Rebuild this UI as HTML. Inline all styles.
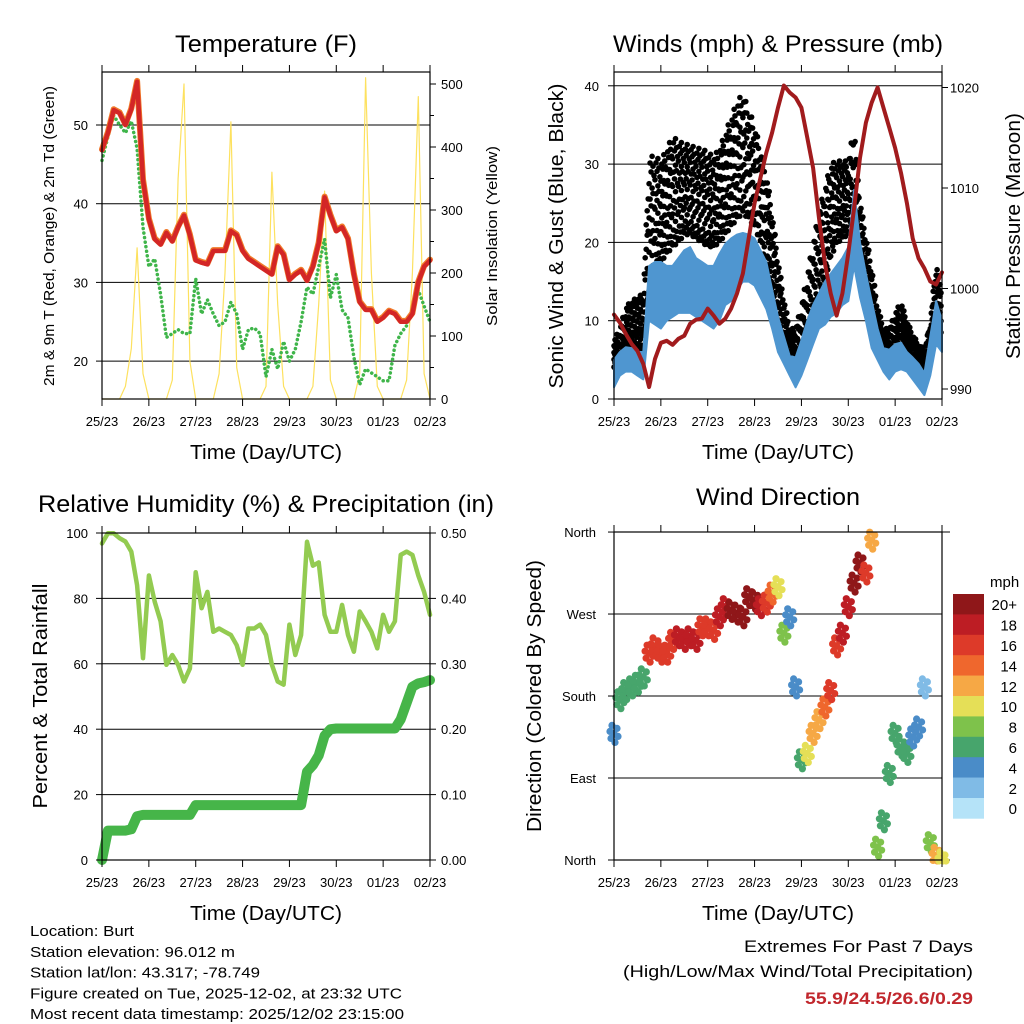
<!DOCTYPE html>
<html><head><meta charset="utf-8"><style>
html,body{margin:0;padding:0;background:#fff}
svg{display:block;font-family:"Liberation Sans",Arial,sans-serif}
</style></head><body>
<svg id="fig" width="1024" height="1024" viewBox="0 0 1024 1024" xmlns="http://www.w3.org/2000/svg"></svg>
<script>
// ---------- data (3-hourly samples, t = 0..56) ----------
const dayLabels = ["25/23","26/23","27/23","28/23","29/23","30/23","01/23","02/23"];
const temp2m = [46.8,49,51.9,51.5,50,52,55.5,43,38,35.5,34.8,36.3,35.2,37,38.5,36,32.8,32.5,32.3,34,34,34,36.5,36,34,33,32.5,32,31.5,31,34.5,33.5,30.3,31,31.5,30.2,32,35,40.8,38.5,36.5,37,35.5,31,27.5,26.5,26.5,25,25.5,26.3,26,25,25,26,30,32,32.8];
const dewpt = [45.5,48.5,51.2,50,49,50.5,47,37,32,33,28.5,23,23.5,24,23.5,23.5,30.5,26,27.8,26,24.5,25,27.5,26,21.5,24,24.2,23.5,18,21.5,19,22.5,20,21.5,25,29.4,28.5,32,35.5,28,31,26.5,25.5,20.5,17,19,18.5,18,17.5,17.5,22,23.5,24.5,26.5,29,27,25];
const solar = [0,0,0,0,20,80,240,40,0,0,0,0,30,350,500,60,0,0,0,0,40,200,440,50,0,0,0,0,20,360,150,20,0,0,0,0,20,150,330,30,0,0,0,0,40,510,200,20,0,0,0,0,30,200,480,40,0];
const pressure = [997.4,996.6,995.5,994.5,993.8,992.5,990.2,993,994.6,994.8,994.4,995,995.3,996.5,996.9,997,998,997.3,996.5,997,998,999.5,1001.5,1005,1008.5,1011,1013.5,1015.5,1018,1020.2,1019.5,1019,1018,1015,1012,1007,1002.5,999.5,997.3,999.5,1003.5,1008,1013,1016.5,1018.5,1020,1018,1016,1014,1011.5,1008.5,1005,1003,1002,1000.7,1000.4,1001.6];
const windLo = [1.5,3,3.5,3.5,3,2.5,10,9.5,9,10,10.5,11,11,11,10.5,10,9.5,9,10,12,12.5,14,15,15,14.5,13,11.5,9,6,4.5,3,1.5,3,5,7,9,9.5,10.5,11,12,12.5,17,13,10,6.5,5,3.5,2.5,3.5,3.8,3.5,2.5,1.5,0.5,3,7,6];
const windHi = [5,6,6.6,6.5,6,6,17,17.5,17.5,17,17,18,19,19.4,18,17.5,17,17,18.5,19.8,20.5,21,21.2,21,20.5,19,17.5,14,10.5,8,5.5,5.3,7.5,10,12,13.5,15,16,17,18,19.4,26.7,20,16,12.5,9,6.5,6.3,7,7.2,6,5.3,4.5,3.3,8,12.5,10];
const gustLo = [4,4.5,5.3,5.5,6,6,13.5,16,17.5,18.5,19.4,20,21,21,20.5,20,19.5,19.4,20,21,22,23,23.7,23,22,20,17,14,9,6,4,3.5,5,7,9.5,12.5,15,18,19.8,20.5,21,23.5,17.5,12,8.3,6.5,5,5,6.5,7.8,6,4,3.5,3,5,9,8];
const gustHi = [7.5,9,11.8,12.5,13,13.5,31,31,30.4,32,33.5,33,32.5,32.5,32,32,31.5,31,32,34,36,38,39,37,35,32,29,24,18,13,9,9,12,16,20,24,27,30,30.4,30.4,30.4,35,25.5,21,17,12,9,9,11,12.5,10,8.3,7,6.3,10,17.5,14];
const rh = [96.8,99.9,99.9,98.4,97.4,94.3,84,61.7,87,79,73,59.7,62.7,59.7,54.6,58.6,88,77,82,69.8,70.8,69.8,68.8,65.7,59.7,70.8,70.8,72,68.8,59.7,54.6,53.6,72,62.7,68.8,97.3,90,91,75,69.8,69.8,78,68.8,63.7,76,73,69.8,64.7,75,69.8,73,93.3,94.3,93.3,87,82,75];
const precip = [0,0.045,0.045,0.045,0.045,0.047,0.067,0.069,0.069,0.069,0.069,0.069,0.069,0.069,0.069,0.069,0.084,0.084,0.084,0.084,0.084,0.084,0.084,0.084,0.084,0.084,0.084,0.084,0.084,0.084,0.084,0.084,0.084,0.084,0.084,0.135,0.145,0.16,0.19,0.2,0.201,0.201,0.201,0.201,0.201,0.201,0.201,0.201,0.201,0.201,0.201,0.215,0.24,0.265,0.27,0.272,0.275];
const windDir = [139,176,186,190,194,201,227,235,227,227,241,245,241,245,241,256,256,252,267,278,274,271,267,289,285,278,282,293,300,249,267,190,110,117,139,154,168,186,235,249,278,304,326,315,351,14,43,95,139,124,117,135,146,190,19,5,0];
const speedBins = ["0","2","4","6","8","10","12","14","16","18","20+"];
const speedColors = ["#b5e3f8","#80bbe6","#4a8cc8","#47a56c","#7ec24b","#e5df57","#f6a845","#ef672d","#dd3a29","#bd1d24","#8f1719"];

// ---------- helpers ----------
const NS = "http://www.w3.org/2000/svg";
const svg = document.getElementById("fig");
function mk(tag, attrs, parent){
  const e = document.createElementNS(NS, tag);
  for (const k in attrs) e.setAttribute(k, attrs[k]);
  (parent||svg).appendChild(e);
  return e;
}
function txt(s, x, y, size, anchor, parent, extra){
  const e = mk("text", Object.assign({x:x, y:y, "font-size":size, "text-anchor":anchor||"start", fill:"#000"}, extra||{}), parent);
  e.textContent = s;
  return e;
}
const N = 56;
function px(p, t){ return p.x0 + t*(p.x1-p.x0)/N; }

function frame(p, name){
  const g = mk("g", {});
  
  
  return g;
}
function xAxis(p, g){
  for (let d=0; d<dayLabels.length; d++){
    const x = p.x0 + d*(p.x1-p.x0)/7;
    mk("line",{x1:x,y1:p.y1,x2:x,y2:p.y1+7,stroke:"#000","stroke-width":1},g);
    mk("line",{x1:x,y1:p.y0,x2:x,y2:p.y0-7,stroke:"#000","stroke-width":1},g);
    const l = txt(dayLabels[d], x, p.y1+27, 13, "middle", g);
    
    
  }
  const xt = txt("Time (Day/UTC)", (p.x0+p.x1)/2, p.y1+60, 20, "middle", g, {textLength:152, lengthAdjust:"spacingAndGlyphs"});
  
  
}
function box(p, g){
  mk("rect",{x:p.x0,y:p.y0,width:p.x1-p.x0,height:p.y1-p.y0,fill:"none",stroke:"#000","stroke-width":1.2},g);
}
function hgrid(p, g, ys){
  ys.forEach(y=>mk("line",{x1:p.x0,y1:y,x2:p.x1,y2:y,stroke:"#000","stroke-width":1},g));
}
function polyline(pts, attrs, g){
  return mk("polyline", Object.assign({points:pts.map(a=>a[0].toFixed(1)+","+a[1].toFixed(1)).join(" "), fill:"none","stroke-linejoin":"round","stroke-linecap":"round"}, attrs), g);
}

// ================= Panel 1: Temperature =================
const P1 = {x0:102, x1:430, y0:72, y1:399};
const yT = v => 125 + (50 - v)*7.87;
const yS = s => 399 - s*0.63;
{
  const g = frame(P1, "temperature-panel");
  hgrid(P1, g, [20,30,40,50].map(yT));
  const sol = polyline(solar.map((v,t)=>[px(P1,t), yS(v)]), {stroke:"#fde15f","stroke-width":1.2}, g);
  
  
  const td = polyline(dewpt.map((v,t)=>[px(P1,t), yT(v)]), {stroke:"#3fb54a","stroke-width":3.5,"stroke-dasharray":"0.1 4.5"}, g);
  
  
  const t9 = polyline(temp2m.map((v,t)=>[px(P1,t), yT(v)-0.8]), {stroke:"#f07a2a","stroke-width":6}, g);
  
  
  const t2 = polyline(temp2m.map((v,t)=>[px(P1,t), yT(v)]), {stroke:"#d32626","stroke-width":4.5}, g);
  
  
  box(P1, g);
  [20,30,40,50].forEach(v=>{ mk("line",{x1:P1.x0-6,y1:yT(v),x2:P1.x0,y2:yT(v),stroke:"#000"},g); txt(String(v), 88, yT(v)+5, 13, "end", g); });
  [0,100,200,300,400,500].forEach(v=>{ mk("line",{x1:P1.x1,y1:yS(v),x2:P1.x1+6,y2:yS(v),stroke:"#000"},g); txt(String(v), 441, yS(v)+5, 13, "start", g); });
  for (let v=50; v<=500; v+=100) mk("line",{x1:P1.x1,y1:yS(v),x2:P1.x1+4,y2:yS(v),stroke:"#000"},g);
  xAxis(P1, g);
  const ti = txt("Temperature (F)", 266, 52, 24, "middle", g, {textLength:182, lengthAdjust:"spacingAndGlyphs"});
  
  
  const yl = txt("2m & 9m T (Red, Orange) & 2m Td (Green)", 0, 0, 15, "middle", g, {transform:"translate(54,236) rotate(-90)", textLength:300, lengthAdjust:"spacingAndGlyphs"});
  
  
  const yr = txt("Solar Insolation (Yellow)", 0, 0, 15, "middle", g, {transform:"translate(497,236) rotate(-90)", textLength:180, lengthAdjust:"spacingAndGlyphs"});
  
  
}

// ================= Panel 2: Winds & Pressure =================
const P2 = {x0:614, x1:942, y0:72, y1:399};
const yW = v => 399 - v*7.83;
const yP = p => 389 - (p-990)*10.05;
{
  const g = frame(P2, "winds-pressure-panel");
  hgrid(P2, g, [10,20,30,40].map(yW));
  const gg = mk("g",{},g);
  
  
  const fr = [[0.02,0.3,0.55,0.8],[0.15,0.42,0.68,0.95],[0.08,0.35,0.62,0.88],[0.0,0.22,0.5,0.75,1.0],[0.12,0.4,0.7,0.92],[0.05,0.28,0.58,0.84]];
  for (let t=0; t<N; t++){
    for (let s=0; s<6; s++){
      const f = s/6, tt = t+f;
      const lo = gustLo[t]+(gustLo[t+1]-gustLo[t])*f, hi = gustHi[t]+(gustHi[t+1]-gustHi[t])*f;
      fr[s].forEach(q=>{
        mk("circle",{cx:px(P2,tt).toFixed(1), cy:yW(lo+(hi-lo)*q).toFixed(1), r:2.8, fill:"#000"},gg);
      });
    }
  }
  const top = windHi.map((v,t)=>[px(P2,t), yW(v)]);
  const bot = windLo.map((v,t)=>[px(P2,t), yW(v)]).reverse();
  const band = mk("polygon",{points:top.concat(bot).map(a=>a[0].toFixed(1)+","+a[1].toFixed(1)).join(" "), fill:"#4f96d0", stroke:"#4f96d0","stroke-width":2,"stroke-linejoin":"round"},g);
  
  
  const pl = polyline(pressure.map((v,t)=>[px(P2,t), yP(v)]), {stroke:"#a11b1d","stroke-width":4}, g);
  
  
  box(P2, g);
  [0,10,20,30,40].forEach(v=>{ mk("line",{x1:P2.x0-6,y1:yW(v),x2:P2.x0,y2:yW(v),stroke:"#000"},g); txt(String(v), 599, yW(v)+5, 13, "end", g); });
  [990,1000,1010,1020].forEach(v=>{ mk("line",{x1:P2.x1,y1:yP(v),x2:P2.x1+6,y2:yP(v),stroke:"#000"},g); txt(String(v), 950, yP(v)+5, 13, "start", g); });
  xAxis(P2, g);
  const ti = txt("Winds (mph) & Pressure (mb)", 778, 52, 24, "middle", g, {textLength:330, lengthAdjust:"spacingAndGlyphs"});
  
  
  const yl = txt("Sonic Wind & Gust (Blue, Black)", 0, 0, 20, "middle", g, {transform:"translate(563,236) rotate(-90)", textLength:305, lengthAdjust:"spacingAndGlyphs"});
  
  
  const yr = txt("Station Pressure (Maroon)", 0, 0, 20, "middle", g, {transform:"translate(1020,236) rotate(-90)", textLength:246, lengthAdjust:"spacingAndGlyphs"});
  
  
}

// ================= Panel 3: RH & Precip =================
const P3 = {x0:102, x1:430, y0:533, y1:860};
const yR = v => 860 - v*3.27;
const yPr = p => 860 - p*654;
{
  const g = frame(P3, "humidity-precip-panel");
  hgrid(P3, g, [20,40,60,80].map(yR));
  const pr = polyline(precip.map((v,t)=>[px(P3,t), yPr(v)]), {stroke:"#46b549","stroke-width":10}, g);
  
  
  const rl = polyline(rh.map((v,t)=>[px(P3,t), yR(v)]), {stroke:"#93cb51","stroke-width":4.5}, g);
  
  
  box(P3, g);
  [0,20,40,60,80,100].forEach(v=>{ mk("line",{x1:P3.x0-6,y1:yR(v),x2:P3.x0,y2:yR(v),stroke:"#000"},g); txt(String(v), 88, yR(v)+5, 13, "end", g); });
  ["0.00","0.10","0.20","0.30","0.40","0.50"].forEach(s=>{ const v=parseFloat(s); mk("line",{x1:P3.x1,y1:yPr(v),x2:P3.x1+6,y2:yPr(v),stroke:"#000"},g); txt(s, 441, yPr(v)+5, 13, "start", g); });
  xAxis(P3, g);
  const ti = txt("Relative Humidity (%) & Precipitation (in)", 266, 512, 24, "middle", g, {textLength:456, lengthAdjust:"spacingAndGlyphs"});
  
  
  const yl = txt("Percent & Total Rainfall", 0, 0, 20, "middle", g, {transform:"translate(47,696) rotate(-90)", textLength:225, lengthAdjust:"spacingAndGlyphs"});
  
  
}

// ================= Panel 4: Wind Direction =================
const P4 = {x0:614, x1:942, y0:532, y1:860};
const yD = d => 860 - d*0.911;
function speedColor(v){ let i = Math.floor(v/2); if (i<0) i=0; if (i>10) i=10; return speedColors[i]; }
{
  const g = frame(P4, "wind-direction-panel");
  hgrid(P4, g, [0,90,180,270,360].map(yD));
  mk("line",{x1:P4.x1,y1:P4.y0,x2:P4.x1+8,y2:P4.y0,stroke:"#000"},g);
  mk("line",{x1:P4.x1,y1:P4.y1,x2:P4.x1+8,y2:P4.y1,stroke:"#000"},g);
  const dg = mk("g",{},g);
  
  
  const offs = [[0,0],[-3,5],[3,-5],[1,9],[-2,-8],[4,3],[-4,-2]];
  windDir.forEach((d,t)=>{
    const col = speedColor(windHi[t]);
    offs.forEach(o=>{
      mk("circle",{cx:(px(P4,t)+o[0]).toFixed(1), cy:Math.min(861,Math.max(531,yD(d)+o[1])).toFixed(1), r:3.6, fill:col},dg);
    });
  });
  box(P4, g);
  ["North","East","South","West","North"].forEach((s,i)=>{ txt(s, 596, yD(i*90)+5, 13, "end", g); mk("line",{x1:P4.x0-6,y1:yD(i*90),x2:P4.x0,y2:yD(i*90),stroke:"#000"},g); });
  xAxis(P4, g);
  const ti = txt("Wind Direction", 778, 505, 24, "middle", g, {textLength:164, lengthAdjust:"spacingAndGlyphs"});
  
  
  const yl = txt("Direction (Colored By Speed)", 0, 0, 20, "middle", g, {transform:"translate(541,696) rotate(-90)", textLength:272, lengthAdjust:"spacingAndGlyphs"});
  
  
  const cb = mk("g",{},g);
  
  
  const bh = 20.4;
  for (let i=0;i<11;i++){
    const idx = 10-i;
    mk("rect",{x:953,y:(594+i*bh).toFixed(1),width:31,height:bh+0.3,fill:speedColors[idx]},cb);
    txt(speedBins[idx], 1017, 594+i*bh+bh/2+6, 15, "end", cb);
  }
  txt("mph", 990, 587, 15, "start", cb);
}

// ================= Footer text =================
{
  const g = mk("g",{});
  
  
  const lines = ["Location: Burt","Station elevation: 96.012 m","Station lat/lon: 43.317; -78.749","Figure created on Tue, 2025-12-02, at 23:32 UTC","Most recent data timestamp: 2025/12/02 23:15:00"];
  const widths = [104,205,230,372,374];
  lines.forEach((s,i)=>txt(s, 30, 936+i*20.8, 15, "start", g, {textLength:widths[i], lengthAdjust:"spacingAndGlyphs"}));
  const e = mk("g",{});
  
  
  txt("Extremes For Past 7 Days", 973, 952, 17, "end", e, {textLength:229, lengthAdjust:"spacingAndGlyphs"});
  txt("(High/Low/Max Wind/Total Precipitation)", 973, 977, 17, "end", e, {textLength:350, lengthAdjust:"spacingAndGlyphs"});
  txt("55.9/24.5/26.6/0.29", 973, 1004, 17, "end", e, {fill:"#c1272d","font-weight":"bold", textLength:168, lengthAdjust:"spacingAndGlyphs"});
}
</script>
</body></html>
